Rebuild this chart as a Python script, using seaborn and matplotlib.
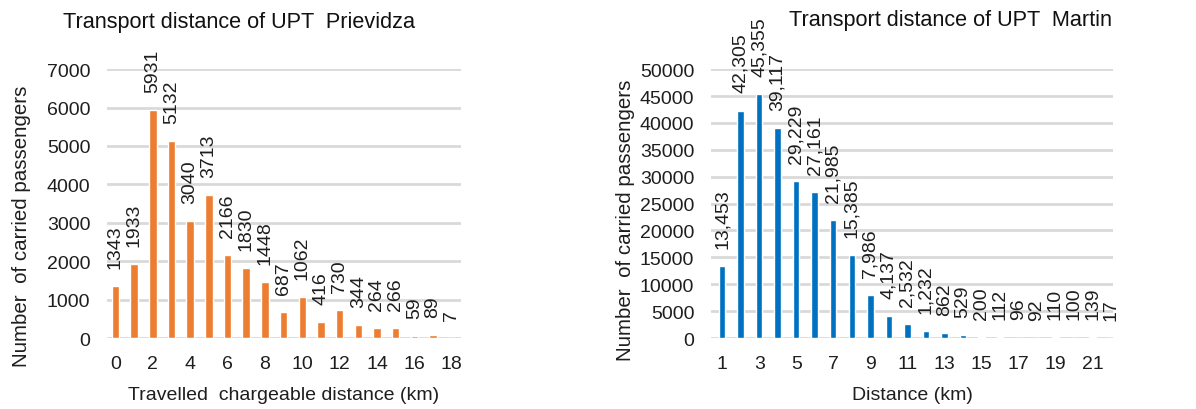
import matplotlib
matplotlib.use("Agg")
import matplotlib.pyplot as plt
import seaborn as sns
import pandas as pd

# Prievidza: travelled chargeable distance (km) vs carried passengers
prievidza_km = list(range(0, 19))
prievidza_pass = [1343, 1933, 5931, 5132, 3040, 3713, 2166, 1830, 1448, 687,
                  1062, 416, 730, 344, 264, 266, 59, 89, 7]

# Martin: distance (km) vs carried passengers
martin_km = list(range(1, 23))
martin_pass = [13453, 42305, 45355, 39117, 29229, 27161, 21985, 15385, 7986, 4137,
               2532, 1232, 862, 529, 200, 112, 96, 92, 110, 100, 139, 17]

sns.set_theme(style="white")
plt.rcParams['font.family'] = ['Liberation Sans', 'DejaVu Sans']

color_orange = '#ED7D31'
color_blue = '#0070C0'
grid_color = '#d9d9d9'
text_color = '#1e1e1e'

fig = plt.figure(figsize=(11.96, 4.10), dpi=100)
ax1 = fig.add_axes([0.0895, 0.173, 0.296, 0.656])
ax2 = fig.add_axes([0.5945, 0.173, 0.336, 0.656])

df_p = pd.DataFrame({'km': prievidza_km, 'passengers': prievidza_pass})
df_m = pd.DataFrame({'km': martin_km, 'passengers': martin_pass})


def style_axis(ax, ymax, ystep):
    ax.set_ylim(0, ymax)
    ax.set_yticks(range(0, ymax + 1, ystep))
    ax.yaxis.grid(True, color=grid_color, linewidth=2)
    ax.set_axisbelow(True)
    for s in ax.spines.values():
        s.set_visible(False)
    ax.tick_params(axis='both', length=0, labelsize=14, colors=text_color)
    ax.tick_params(axis='x', pad=12)
    ax.tick_params(axis='y', pad=12)


# --- Left chart: Prievidza ---
sns.barplot(data=df_p, x='km', y='passengers', color=color_orange,
            width=0.4, saturation=1, ax=ax1)
style_axis(ax1, 7000, 1000)
ax1.set_xlim(-0.45, 18.5)
ax1.set_xticks(range(0, len(prievidza_km), 2))
ax1.set_xticklabels([str(k) for k in prievidza_km[::2]])
ax1.bar_label(ax1.containers[0], labels=[str(v) for v in prievidza_pass],
              rotation=90, padding=13, fontsize=14, color=text_color)
ax1.set_xlabel('Travelled  chargeable distance (km)', fontsize=14, color=text_color)
ax1.set_ylabel('Number  of carried passengers', fontsize=14.8, color=text_color)
ax1.xaxis.set_label_coords(0.5, -0.18)
ax1.yaxis.set_label_coords(-0.215, 0.42)
fig.text(0.2, 0.944, 'Transport distance of UPT  Prievidza', ha='center', va='center',
         fontsize=15.6, color='#111111')

# --- Right chart: Martin ---
sns.barplot(data=df_m, x='km', y='passengers', color=color_blue,
            width=0.35, saturation=1, ax=ax2)
style_axis(ax2, 50000, 5000)
ax2.set_xlim(-0.6, 21.1)
ax2.set_xticks(range(0, len(martin_km), 2))
ax2.set_xticklabels([str(k) for k in martin_km[::2]])
ax2.bar_label(ax2.containers[0], labels=[f"{v:,}" for v in martin_pass],
              rotation=90, padding=13, fontsize=14, color=text_color,
              annotation_clip=False)
ax2.set_xlabel('Distance (km)', fontsize=14, color=text_color)
ax2.set_ylabel('Number  of carried passengers', fontsize=14.8, color=text_color)
ax2.xaxis.set_label_coords(0.5, -0.18)
ax2.yaxis.set_label_coords(-0.19, 0.44)
fig.text(0.795, 0.95, 'Transport distance of UPT  Martin', ha='center', va='center',
         fontsize=15.6, color='#111111')

fig.savefig('out.png', dpi=100)
